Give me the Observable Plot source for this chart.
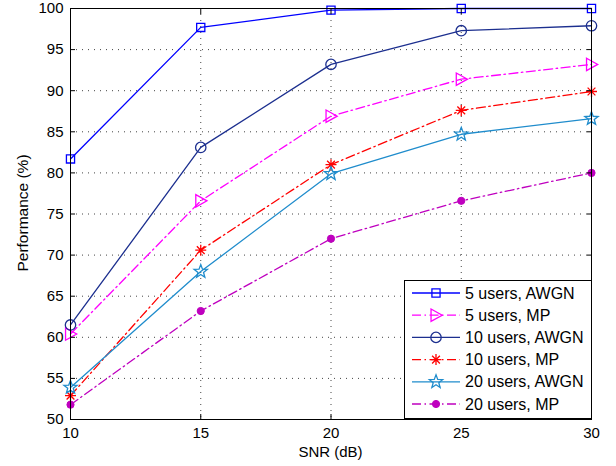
<!DOCTYPE html>
<html>
<head>
<meta charset="utf-8">
<script src="https://cdn.jsdelivr.net/npm/d3@7"></script>
<script src="https://cdn.jsdelivr.net/npm/@observablehq/plot@0.6"></script>
<style>
  html, body { margin: 0; padding: 0; background: #fff; }
  #chart svg { display: block; }
</style>
</head>
<body>
<div id="chart"></div>
<script>
// ---- data ----
const snr = [10, 15, 20, 25, 30];
const users5AWGN  = [81.7, 97.7, 99.8, 100.0, 100.0];
const users5MP    = [60.4, 76.6, 86.9, 91.4, 93.2];
const users10AWGN = [61.5, 83.1, 93.2, 97.3, 97.9];
const users10MP   = [52.9, 70.6, 81.0, 87.6, 89.9];
const users20AWGN = [53.9, 68.0, 79.9, 84.7, 86.6];
const users20MP   = [51.8, 63.2, 72.0, 76.6, 80.0];
const seriesNames = ["5 users, AWGN", "5 users, MP", "10 users, AWGN", "10 users, MP", "20 users, AWGN", "20 users, MP"];
const xTicks = [10, 15, 20, 25, 30];
const yTicks = [50, 55, 60, 65, 70, 75, 80, 85, 90, 95, 100];

// ---- custom symbols ----
const triRight = {draw(ctx, size) {
  const r = Math.sqrt(size / Math.PI);
  ctx.moveTo(-r * 0.8, -r); ctx.lineTo(r, 0); ctx.lineTo(-r * 0.8, r); ctx.closePath();
}};
const pentagram = {draw(ctx, size) {
  const R = Math.sqrt(size / Math.PI), ri = R * 0.42;
  for (let i = 0; i < 10; i++) {
    const a = -Math.PI / 2 + i * Math.PI / 5, rr = i % 2 ? ri : R;
    const x = rr * Math.cos(a), y = rr * Math.sin(a);
    i ? ctx.lineTo(x, y) : ctx.moveTo(x, y);
  }
  ctx.closePath();
}};
const asterisk8 = {draw(ctx, size) {
  const r = Math.sqrt(size / Math.PI);
  for (let i = 0; i < 4; i++) {
    const a = i * Math.PI / 4, x = r * Math.cos(a), y = r * Math.sin(a);
    ctx.moveTo(-x, -y); ctx.lineTo(x, y);
  }
}};

const dashDot = "9,3.5,1.5,3.5";
const styles = [
  {data: users5AWGN,  color: "#0000ff", dash: null,    symbol: "square",  r: 4.6, fill: "none", sw: 1.3},
  {data: users5MP,    color: "#ff00ff", dash: dashDot, symbol: triRight,  r: 6.2, fill: "none", sw: 1.3},
  {data: users10AWGN, color: "#1c2f8f", dash: null,    symbol: "circle",  r: 5.2, fill: "none", sw: 1.3},
  {data: users10MP,   color: "#ff0000", dash: dashDot, symbol: asterisk8, r: 5.5, fill: "none", sw: 1.3},
  {data: users20AWGN, color: "#1f8ccc", dash: null,    symbol: pentagram, r: 7.0, fill: "none", sw: 1.3},
  {data: users20MP,   color: "#bf00bf", dash: dashDot, symbol: "circle",  r: 3.6, fill: "#bf00bf", sw: 1}
];

const marks = [];
marks.push(Plot.gridX([15, 20, 25], {stroke: "#444", strokeOpacity: 1, strokeDasharray: "1,5", strokeWidth: 1}));
marks.push(Plot.gridY([55, 60, 65, 70, 75, 80, 85, 90, 95], {stroke: "#444", strokeOpacity: 1, strokeDasharray: "1,5", strokeWidth: 1}));
styles.forEach((s) => {
  const rows = snr.map((x, i) => ({x, y: s.data[i]}));
  marks.push(Plot.line(rows, {x: "x", y: "y", stroke: s.color, strokeWidth: 1.3, strokeDasharray: s.dash || undefined}));
});
styles.forEach((s) => {
  const rows = snr.map((x, i) => ({x, y: s.data[i]}));
  marks.push(Plot.dot(rows, {x: "x", y: "y", symbol: () => s.symbol, r: s.r, stroke: s.color, fill: s.fill, strokeWidth: s.sw}));
});
// inward ticks on all sides
marks.push(Plot.axisX(xTicks, {anchor: "bottom", tickSize: -5, text: null, stroke: "black", label: null}));
marks.push(Plot.axisX(xTicks, {anchor: "top", tickSize: -5, text: null, stroke: "black", label: null}));
marks.push(Plot.axisY(yTicks, {anchor: "left", tickSize: -5, text: null, stroke: "black", label: null}));
marks.push(Plot.axisY(yTicks, {anchor: "right", tickSize: -5, text: null, stroke: "black", label: null}));
// tick labels
marks.push(Plot.axisX(xTicks, {anchor: "bottom", tickSize: 0, tickPadding: 8, label: null, fill: "black"}));
marks.push(Plot.axisY(yTicks, {anchor: "left", tickSize: 0, tickPadding: 7, label: null, fill: "black"}));
marks.push(Plot.frame({stroke: "black", strokeWidth: 1}));

const chart = Plot.plot({
  width: 616,
  height: 466,
  marginLeft: 70,
  marginRight: 25,
  marginTop: 8,
  marginBottom: 47,
  style: {fontFamily: "'Liberation Sans', Arial, sans-serif", fontSize: "15px", color: "black", background: "white"},
  x: {domain: [10, 30], axis: null},
  y: {domain: [50, 100], axis: null},
  marks
});

const svg = d3.select(chart);
// axis labels
svg.append("text").attr("x", 330.5).attr("y", 457).attr("text-anchor", "middle")
  .attr("font-size", "15px").attr("fill", "black").text("SNR (dB)");
svg.append("text").attr("transform", "translate(28,213) rotate(-90)").attr("text-anchor", "middle")
  .attr("font-size", "15.5px").attr("fill", "black").text("Performance (%)");

// legend
const lg = svg.append("g").attr("text-anchor", "start");
lg.append("rect").attr("x", 404.5).attr("y", 280.5).attr("width", 187).attr("height", 138)
  .attr("fill", "white").attr("stroke", "black").attr("stroke-width", 1);
styles.forEach((s, i) => {
  const cy = 293 + i * 22.2;
  lg.append("line").attr("x1", 412).attr("x2", 460).attr("y1", cy).attr("y2", cy)
    .attr("stroke", s.color).attr("stroke-width", 1.3).attr("stroke-dasharray", s.dash);
  const sym = typeof s.symbol === "string" ? (s.symbol === "square" ? d3.symbolSquare : d3.symbolCircle) : s.symbol;
  lg.append("path").attr("transform", `translate(436,${cy})`)
    .attr("d", d3.symbol(sym, s.r * s.r * Math.PI)())
    .attr("stroke", s.color).attr("fill", s.fill).attr("stroke-width", s.sw);
  lg.append("text").attr("x", 465).attr("y", cy + 5.5).attr("text-anchor", "start")
    .attr("font-size", "16px").attr("fill", "black").text(seriesNames[i]);
});

document.getElementById("chart").appendChild(chart);
</script>
</body>
</html>
